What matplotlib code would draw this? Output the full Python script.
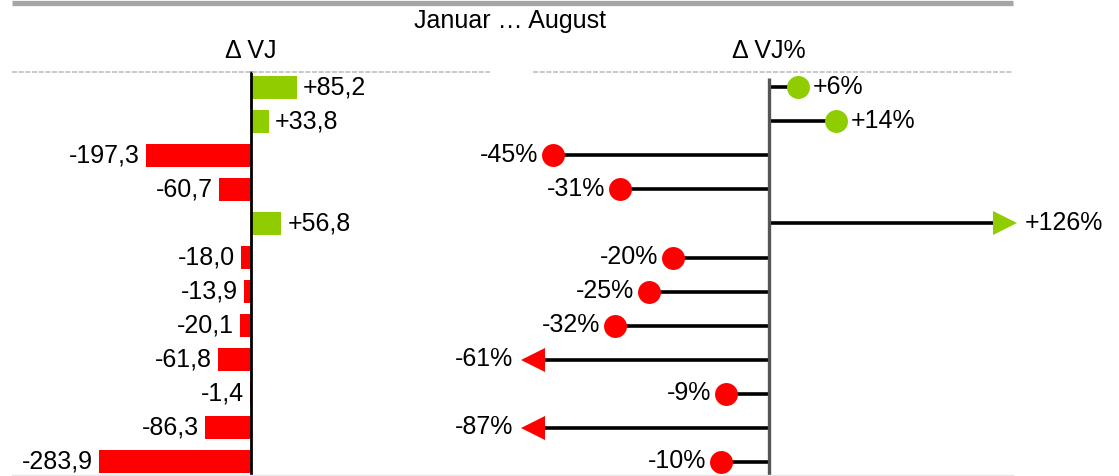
import matplotlib
matplotlib.use('Agg')
import matplotlib.pyplot as plt
from matplotlib.lines import Line2D

# ---- data ----
delta_vj = [85.2, 33.8, -197.3, -60.7, 56.8, -18.0, -13.9, -20.1, -61.8, -1.4, -86.3, -283.9]
delta_pct = [6, 14, -45, -31, 126, -20, -25, -32, -61, -9, -87, -10]
title = "Januar … August"
sub_left = "Δ VJ"
sub_right = "Δ VJ%"

GREEN = '#8FCC00'
RED = '#FF0000'

plt.rcParams['font.family'] = ['Liberation Sans', 'DejaVu Sans']
FS = 18

W, H = 1119, 476
fig = plt.figure(figsize=(W / 100, H / 100), dpi=100)

def fx(px):
    return px / W

def fy(py):
    return 1 - py / H

# header elements
fig.add_artist(Line2D([fx(12), fx(1013)], [fy(2.5), fy(2.5)], color='#A6A6A6', lw=3.8,
                      solid_capstyle='butt'))
fig.text(fx(510), fy(21), title, ha='center', va='center', fontsize=FS)
fig.text(fx(251), fy(51), sub_left, ha='center', va='center', fontsize=FS)
fig.text(fx(769), fy(51), sub_right, ha='center', va='center', fontsize=FS)
for x0, x1 in [(12, 490), (533, 1013)]:
    fig.add_artist(Line2D([fx(x0), fx(x1)], [fy(71.5), fy(71.5)], color='#BFBFBF', lw=1.2,
                          dashes=(3, 1)))
fig.add_artist(Line2D([fx(12), fx(1013)], [fy(475), fy(475)], color='#E6E6E6', lw=1.0))

n = len(delta_vj)
rows = list(range(n))
row_top = 87.5
row_step = 34.0
ylim = ((476 - row_top) / row_step, (71 - row_top) / row_step)

# ---- left panel: bars ----
axL = fig.add_axes([fx(12), fy(476), fx(490 - 12), (476 - 71) / H])
axL.set_xlim(-447, 447)
axL.set_ylim(ylim)
axL.axis('off')
colors = [GREEN if v >= 0 else RED for v in delta_vj]
axL.barh(rows, delta_vj, height=0.66, color=colors, zorder=2)
axL.plot([0, 0], list(ylim), color='black', lw=2.0, zorder=3, solid_capstyle='butt')
for r, v in zip(rows, delta_vj):
    txt = ('+' if v >= 0 else '-') + f"{abs(v):.1f}".replace('.', ',')
    off = 6 if v >= 0 else -6
    axL.annotate(txt, (v, r), xytext=(off * 0.72, 0), textcoords='offset points',
                 ha='left' if v >= 0 else 'right', va='center', fontsize=FS)

# ---- right panel: lollipops ----
scale = 4.8  # px per percent
axR = fig.add_axes([fx(533), fy(476), fx(1013 - 533), (476 - 71) / H])
axR.set_xlim(-(769 - 533) / scale, (1013 - 769) / scale)
axR.set_ylim(ylim)
axR.axis('off')
limit = 48.0
stem_end = 46.7
arrow_c = 49.2
for r, v in zip(rows, delta_pct):
    col = GREEN if v >= 0 else RED
    sgn = 1 if v >= 0 else -1
    txt = ('+' if v >= 0 else '-') + f"{abs(v)}%"
    if abs(v) > limit:
        axR.plot([0, sgn * stem_end], [r, r], color='black', lw=2.6, solid_capstyle='butt',
                 zorder=2)
        axR.plot([sgn * arrow_c], [r], marker='>' if sgn > 0 else '<', ms=17, color=col,
                 mew=0, clip_on=False, zorder=3)
        axR.annotate(txt, (sgn * arrow_c, r), xytext=(sgn * 20 * 0.72, 0),
                     textcoords='offset points', ha='left' if sgn > 0 else 'right',
                     va='center', fontsize=FS, annotation_clip=False)
    else:
        axR.plot([0, v], [r, r], color='black', lw=2.6, solid_capstyle='butt', zorder=2)
        axR.plot([v], [r], marker='o', ms=16.5, color=col, mew=0, clip_on=False, zorder=3)
        axR.annotate(txt, (v, r), xytext=(sgn * 15 * 0.72, 0), textcoords='offset points',
                     ha='left' if sgn > 0 else 'right', va='center', fontsize=FS)
axR.plot([0, 0], [ylim[0], (78 - row_top) / row_step], color='#555555', lw=2.4,
         solid_capstyle='butt', zorder=4)

fig.savefig('out.png', dpi=100)
